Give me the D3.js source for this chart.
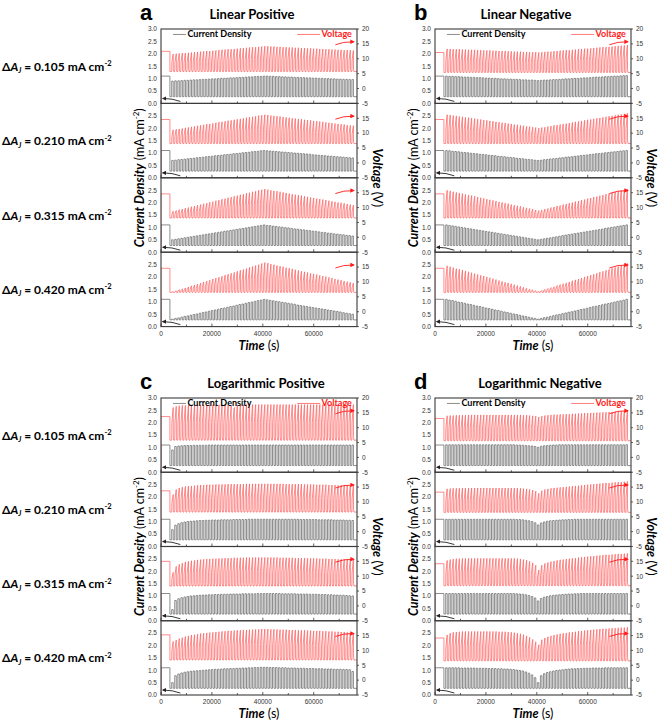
<!DOCTYPE html>
<html lang="en">
<head>
<meta charset="UTF-8" />
<title>Pulsed current density and voltage</title>
<script src="https://d3js.org/d3.v7.min.js"></script>
<style>
  body { margin: 0; background: #fff; }
  svg { display: block; font-family: Lato, "Open Sans", sans-serif; }
</style>
</head>
<body>
<svg id="chart" width="660" height="722"></svg>
<script>
// time axis and pulse programme
const timeTicks = [0, 20000, 40000, 60000];
const timeMinorTicks = [10000, 30000, 50000, 70000];
const timeMax = 77000;
const stepEnd = 3500, firstPulse = 4200, period = 1200, onTime = 600;
const stepCurrent = 1.1, baseCurrent = 0.27;

const panelLetters = ["a", "b", "c", "d"];
const panelTitles = ["Linear Positive", "Linear Negative", "Logarithmic Positive", "Logarithmic Negative"];
const deltaValues = ["0.105", "0.210", "0.315", "0.420"];
const currentTicksTop = [0, 0.5, 1, 1.5, 2, 2.5, 3];
const currentTicks = [0, 0.5, 1, 1.5, 2, 2.5];
const voltageTicksTop = [-5, 0, 5, 10, 15, 20];
const voltageTicks = [-5, 0, 5, 10, 15];

// pulse peak current density (mA cm-2), one value per pulse
const curA1 = [0.90,0.91,0.91,0.92,0.93,0.93,0.94,0.95,0.95,0.96,0.97,0.97,0.98,0.99,0.99,1.00,1.01,1.01,1.02,1.03,1.03,1.04,1.05,1.05,1.06,1.07,1.07,1.08,1.09,1.09,1.10,
  1.10,1.09,1.09,1.08,1.08,1.07,1.07,1.06,1.06,1.05,1.05,1.04,1.04,1.03,1.03,1.02,1.02,1.01,1.01,1.00,1.00,0.99,0.99,0.98,0.98,0.97,0.97,0.96,0.96];
const curA2 = [0.70,0.71,0.73,0.74,0.75,0.77,0.78,0.79,0.81,0.82,0.83,0.85,0.86,0.87,0.89,0.90,0.91,0.93,0.94,0.95,0.97,0.98,0.99,1.01,1.02,1.03,1.05,1.06,1.07,1.09,1.10,
  1.09,1.08,1.07,1.06,1.05,1.04,1.03,1.02,1.01,1.00,0.99,0.98,0.97,0.96,0.95,0.93,0.92,0.91,0.90,0.89,0.88,0.87,0.86,0.85,0.84,0.83,0.82,0.81,0.80];
const curA3 = [0.50,0.52,0.54,0.56,0.58,0.60,0.62,0.64,0.66,0.68,0.70,0.72,0.74,0.76,0.78,0.80,0.82,0.84,0.86,0.88,0.90,0.92,0.94,0.96,0.98,1.00,1.02,1.04,1.06,1.08,1.10,
  1.08,1.07,1.05,1.04,1.02,1.01,0.99,0.98,0.96,0.94,0.93,0.91,0.90,0.88,0.87,0.85,0.84,0.82,0.80,0.79,0.77,0.76,0.74,0.73,0.71,0.70,0.68,0.67,0.65];
const curA4 = [0.30,0.33,0.35,0.38,0.41,0.43,0.46,0.49,0.51,0.54,0.57,0.59,0.62,0.65,0.67,0.70,0.73,0.75,0.78,0.81,0.83,0.86,0.89,0.91,0.94,0.97,0.99,1.02,1.05,1.07,1.10,
  1.08,1.06,1.04,1.02,1.00,0.98,0.96,0.94,0.92,0.90,0.87,0.85,0.83,0.81,0.79,0.77,0.75,0.73,0.71,0.69,0.67,0.65,0.63,0.61,0.59,0.56,0.54,0.52,0.50];

const curB1 = [1.10,1.09,1.09,1.08,1.08,1.07,1.06,1.06,1.05,1.05,1.04,1.04,1.03,1.02,1.02,1.01,1.01,1.00,0.99,0.99,0.98,0.98,0.97,0.97,0.96,0.95,0.95,0.94,0.94,0.93,0.92,
  0.93,0.94,0.94,0.95,0.96,0.96,0.97,0.98,0.99,0.99,1.00,1.01,1.01,1.02,1.03,1.03,1.04,1.05,1.06,1.06,1.07,1.08,1.08,1.09,1.10,1.10,1.11,1.12,1.12];
const curB2 = [1.10,1.09,1.07,1.06,1.05,1.03,1.02,1.01,0.99,0.98,0.97,0.95,0.94,0.93,0.91,0.90,0.89,0.87,0.86,0.85,0.83,0.82,0.81,0.79,0.78,0.77,0.75,0.74,0.73,0.71,0.70,
  0.71,0.73,0.74,0.76,0.77,0.78,0.80,0.81,0.83,0.84,0.85,0.87,0.88,0.90,0.91,0.92,0.94,0.95,0.97,0.98,0.99,1.01,1.02,1.04,1.05,1.06,1.08,1.09,1.10];
const curB3 = [1.10,1.08,1.06,1.04,1.02,1.00,0.98,0.96,0.94,0.92,0.90,0.88,0.86,0.84,0.82,0.80,0.78,0.76,0.74,0.72,0.70,0.68,0.66,0.64,0.62,0.60,0.58,0.56,0.54,0.52,0.50,
  0.52,0.54,0.56,0.58,0.60,0.62,0.64,0.67,0.69,0.71,0.73,0.75,0.77,0.79,0.81,0.83,0.85,0.87,0.89,0.91,0.93,0.96,0.98,1.00,1.02,1.04,1.06,1.08,1.10];
const curB4 = [1.10,1.07,1.05,1.02,0.99,0.97,0.94,0.91,0.89,0.86,0.83,0.81,0.78,0.75,0.73,0.70,0.67,0.65,0.62,0.59,0.57,0.54,0.51,0.49,0.46,0.43,0.41,0.38,0.35,0.33,0.30,
  0.33,0.36,0.38,0.41,0.44,0.47,0.49,0.52,0.55,0.58,0.60,0.63,0.66,0.69,0.71,0.74,0.77,0.80,0.82,0.85,0.88,0.91,0.93,0.96,0.99,1.02,1.04,1.07,1.10];

const curC1 = [0.90,1.04,1.06,1.07,1.08,1.08,1.08,1.09,1.09,1.09,1.09,1.09,1.10,1.10,1.10,1.10,1.10,1.10,1.10,1.10,1.10,1.10,1.10,1.10,1.10,1.10,1.10,1.10,1.10,1.10,
  1.10,1.10,1.10,1.10,1.10,1.10,1.10,1.10,1.10,1.10,1.10,1.10,1.10,1.10,1.10,1.10,1.10,1.10,1.10,1.10,1.10,1.10,1.10,1.10,1.10,1.10,1.10,1.10,1.10,1.10];
const curC2 = [0.68,0.86,0.92,0.96,0.99,1.01,1.02,1.03,1.04,1.05,1.05,1.06,1.06,1.07,1.07,1.07,1.08,1.08,1.08,1.08,1.09,1.09,1.09,1.09,1.09,1.10,1.10,1.10,1.10,1.10,
  1.10,1.10,1.10,1.10,1.10,1.10,1.10,1.10,1.10,1.10,1.10,1.10,1.09,1.09,1.09,1.09,1.09,1.09,1.08,1.08,1.08,1.08,1.08,1.07,1.07,1.07,1.07,1.06,1.06,1.05];
const curC3 = [0.45,0.82,0.89,0.93,0.96,0.98,1.00,1.01,1.02,1.03,1.04,1.04,1.05,1.05,1.06,1.06,1.07,1.07,1.07,1.08,1.08,1.08,1.08,1.09,1.09,1.09,1.09,1.09,1.10,1.10,
  1.10,1.10,1.10,1.10,1.10,1.10,1.09,1.09,1.09,1.09,1.09,1.08,1.08,1.08,1.08,1.07,1.07,1.07,1.06,1.06,1.06,1.05,1.05,1.04,1.04,1.03,1.03,1.02,1.01,1.00];
const curC4 = [0.50,0.78,0.85,0.89,0.92,0.94,0.96,0.97,0.98,0.99,1.00,1.01,1.02,1.03,1.04,1.04,1.05,1.06,1.06,1.07,1.07,1.08,1.08,1.09,1.09,1.10,1.10,1.11,1.11,1.12,
  1.12,1.12,1.11,1.11,1.11,1.10,1.10,1.10,1.09,1.09,1.09,1.08,1.08,1.08,1.07,1.07,1.07,1.06,1.06,1.06,1.05,1.05,1.05,1.04,1.04,1.04,1.03,1.03,1.02,0.95];

const curD1 = [1.11,1.11,1.11,1.11,1.11,1.11,1.11,1.11,1.11,1.11,1.11,1.11,1.11,1.11,1.11,1.11,1.11,1.11,1.11,1.11,1.11,1.11,1.11,1.10,1.10,1.09,1.08,1.07,1.06,1.04,1.01,
  1.05,1.07,1.08,1.09,1.10,1.10,1.11,1.11,1.11,1.11,1.11,1.11,1.11,1.11,1.11,1.11,1.11,1.11,1.11,1.11,1.11,1.11,1.11,1.11,1.11,1.11,1.11,1.11,1.11];
const curD2 = [1.10,1.10,1.10,1.10,1.10,1.10,1.10,1.10,1.10,1.10,1.10,1.10,1.10,1.10,1.10,1.10,1.10,1.10,1.10,1.10,1.10,1.10,1.10,1.09,1.09,1.08,1.06,1.04,1.01,0.96,0.87,
  0.95,0.99,1.02,1.04,1.05,1.06,1.07,1.08,1.08,1.09,1.09,1.10,1.10,1.10,1.10,1.10,1.10,1.10,1.10,1.10,1.10,1.10,1.10,1.10,1.10,1.10,1.10,1.10,1.10];
const curD3 = [1.10,1.10,1.10,1.10,1.10,1.10,1.10,1.10,1.10,1.10,1.10,1.10,1.10,1.10,1.10,1.10,1.10,1.10,1.10,1.10,1.10,1.10,1.10,1.09,1.08,1.07,1.05,1.02,0.98,0.92,0.80,
  0.90,0.95,0.98,1.01,1.03,1.04,1.05,1.06,1.07,1.08,1.08,1.09,1.09,1.10,1.10,1.10,1.10,1.10,1.10,1.10,1.10,1.10,1.10,1.10,1.10,1.10,1.10,1.10,1.10];
const curD4 = [1.10,1.10,1.10,1.10,1.10,1.09,1.09,1.09,1.09,1.09,1.08,1.08,1.08,1.08,1.07,1.07,1.07,1.06,1.06,1.05,1.05,1.04,1.03,1.01,0.99,0.97,0.93,0.88,0.81,0.70,0.50,
  0.78,0.86,0.91,0.94,0.97,0.99,1.01,1.02,1.04,1.05,1.06,1.06,1.07,1.07,1.08,1.08,1.08,1.09,1.09,1.09,1.09,1.10,1.10,1.10,1.10,1.10,1.10,1.10,1.10];

// pulse peak voltage (V), one value per pulse
const voltA1 = [11.6,11.7,11.8,11.9,11.9,12.0,12.1,12.2,12.3,12.4,12.5,12.6,12.6,12.7,12.8,12.9,13.0,13.1,13.2,13.2,13.3,13.4,13.5,13.6,13.7,13.8,13.9,13.9,14.0,14.1,14.2,
  14.2,14.1,14.1,14.0,14.0,13.9,13.9,13.8,13.8,13.7,13.7,13.6,13.6,13.5,13.5,13.4,13.4,13.3,13.3,13.2,13.2,13.1,13.1,13.0,13.0,12.9,12.9,12.9,12.8];
const voltA2 = [11.1,11.3,11.4,11.6,11.8,11.9,12.1,12.3,12.5,12.6,12.8,13.0,13.1,13.3,13.5,13.7,13.8,14.0,14.2,14.3,14.5,14.7,14.8,15.0,15.2,15.4,15.5,15.7,15.9,16.0,16.2,
  16.1,15.9,15.8,15.7,15.6,15.4,15.3,15.2,15.0,14.9,14.8,14.7,14.5,14.4,14.3,14.1,14.0,13.9,13.8,13.6,13.5,13.4,13.2,13.1,13.0,12.9,12.7,12.6,12.5];
const voltA3 = [8.8,9.0,9.3,9.5,9.8,10.0,10.3,10.5,10.8,11.0,11.3,11.5,11.8,12.0,12.3,12.5,12.8,13.0,13.3,13.5,13.8,14.0,14.3,14.5,14.8,15.0,15.3,15.5,15.8,16.0,16.2,
  16.0,15.8,15.6,15.5,15.3,15.1,14.9,14.7,14.5,14.3,14.2,14.0,13.8,13.6,13.4,13.2,13.0,12.9,12.7,12.5,12.3,12.1,11.9,11.7,11.6,11.4,11.2,11.0,10.8];
const voltA4 = [6.7,7.0,7.4,7.7,8.0,8.3,8.7,9.0,9.3,9.6,10.0,10.3,10.6,11.0,11.3,11.6,11.9,12.3,12.6,12.9,13.2,13.6,13.9,14.2,14.5,14.9,15.2,15.5,15.8,16.2,16.5,
  16.3,16.0,15.8,15.5,15.3,15.1,14.8,14.6,14.4,14.1,13.9,13.6,13.4,13.2,12.9,12.7,12.5,12.2,12.0,11.8,11.5,11.3,11.0,10.8,10.6,10.3,10.1,9.9,9.6];

const voltB1 = [13.3,13.3,13.2,13.2,13.2,13.1,13.1,13.0,13.0,13.0,12.9,12.9,12.8,12.8,12.8,12.7,12.7,12.6,12.6,12.6,12.5,12.5,12.4,12.4,12.4,12.3,12.3,12.2,12.2,12.2,12.1,
  12.2,12.3,12.4,12.4,12.5,12.6,12.7,12.8,12.9,12.9,13.0,13.1,13.2,13.3,13.4,13.4,13.5,13.6,13.7,13.8,13.9,13.9,14.0,14.1,14.2,14.3,14.4,14.5,14.6];
const voltB2 = [16.2,16.1,15.9,15.8,15.6,15.5,15.3,15.2,15.0,14.9,14.7,14.6,14.4,14.3,14.1,14.0,13.8,13.7,13.5,13.4,13.2,13.1,12.9,12.8,12.6,12.5,12.3,12.2,12.0,11.9,11.7,
  11.9,12.0,12.2,12.4,12.6,12.7,12.9,13.1,13.2,13.4,13.6,13.8,13.9,14.1,14.3,14.5,14.6,14.8,15.0,15.1,15.3,15.5,15.7,15.8,16.0,16.2,16.3,16.5,16.7];
const voltB3 = [15.8,15.6,15.3,15.1,14.9,14.7,14.4,14.2,14.0,13.8,13.5,13.3,13.1,12.8,12.6,12.4,12.2,11.9,11.7,11.5,11.3,11.0,10.8,10.6,10.4,10.1,9.9,9.7,9.5,9.2,9.0,
  9.2,9.5,9.7,10.0,10.2,10.5,10.7,11.0,11.2,11.5,11.7,12.0,12.2,12.5,12.7,13.0,13.2,13.5,13.7,14.0,14.2,14.5,14.7,15.0,15.2,15.5,15.7,16.0,16.2];
const voltB4 = [15.4,15.1,14.8,14.5,14.3,14.0,13.7,13.4,13.1,12.8,12.5,12.2,12.0,11.7,11.4,11.1,10.8,10.5,10.2,9.9,9.7,9.4,9.1,8.8,8.5,8.2,7.9,7.6,7.4,7.1,6.8,
  7.1,7.5,7.8,8.1,8.4,8.8,9.1,9.4,9.7,10.0,10.4,10.7,11.0,11.3,11.7,12.0,12.3,12.6,12.9,13.3,13.6,13.9,14.2,14.6,14.9,15.2,15.5,15.9,16.2];

const voltC1 = [16.8,17.2,17.4,17.5,17.5,17.6,17.6,17.6,17.7,17.7,17.7,17.7,17.7,17.7,17.7,17.7,17.7,17.7,17.7,17.3,16.8,17.4,17.7,17.7,17.8,17.8,17.8,17.8,17.8,17.8,
  17.8,17.8,17.8,17.8,17.8,17.8,17.8,17.8,17.8,17.8,17.8,17.8,17.8,17.8,17.8,17.8,17.8,17.8,17.8,17.8,17.8,17.8,17.8,17.8,17.8,17.8,17.8,17.8,17.8,17.8];
const voltC2 = [12.5,14.2,14.7,15.0,15.2,15.3,15.4,15.5,15.6,15.7,15.7,15.8,15.8,15.8,15.9,15.9,15.9,15.9,16.0,16.0,16.0,16.0,16.0,16.0,16.1,16.1,16.1,16.1,16.1,16.1,
  16.1,16.1,16.1,16.1,16.1,16.1,16.1,16.0,16.0,16.0,16.0,16.0,16.0,15.9,15.9,15.9,15.9,15.8,15.8,15.8,15.8,15.7,15.7,15.7,15.6,15.6,15.6,15.5,15.5,15.4];
const voltC3 = [11.3,13.3,14.0,14.4,14.8,15.0,15.2,15.3,15.5,15.6,15.7,15.8,15.8,15.9,15.9,16.0,16.0,16.1,16.1,16.1,16.2,16.2,16.2,16.2,16.3,16.3,16.3,16.3,16.3,16.3,
  16.3,16.3,16.3,16.3,16.3,16.2,16.2,16.2,16.2,16.2,16.1,16.1,16.1,16.1,16.0,16.0,16.0,16.0,15.9,15.9,15.9,15.8,15.8,15.8,15.7,15.7,15.6,15.6,15.5,15.5];
const voltC4 = [13.0,13.5,14.0,14.3,14.7,14.9,15.2,15.3,15.5,15.7,15.8,15.9,16.0,16.1,16.2,16.3,16.4,16.5,16.6,16.6,16.7,16.8,16.8,16.9,16.9,17.0,17.0,17.1,17.1,17.2,
  17.2,17.2,17.1,17.1,17.1,17.0,17.0,17.0,16.9,16.9,16.9,16.8,16.8,16.8,16.7,16.7,16.6,16.6,16.6,16.5,16.5,16.4,16.4,16.3,16.3,16.2,16.2,16.1,16.0,15.8];

const voltD1 = [14.0,14.1,14.1,14.2,14.2,14.2,14.2,14.3,14.3,14.3,14.3,14.3,14.3,14.3,14.3,14.3,14.3,14.3,14.3,14.3,14.3,14.3,14.3,14.3,14.3,14.2,14.2,14.1,14.0,13.9,13.6,
  13.9,14.1,14.2,14.3,14.4,14.4,14.5,14.5,14.6,14.6,14.7,14.7,14.8,14.8,14.9,14.9,15.0,15.0,15.1,15.1,15.2,15.2,15.3,15.3,15.4,15.4,15.5,15.6,15.7];
const voltD2 = [14.4,14.5,14.6,14.6,14.6,14.7,14.7,14.7,14.7,14.7,14.7,14.7,14.7,14.7,14.7,14.7,14.7,14.7,14.7,14.7,14.7,14.7,14.7,14.7,14.6,14.5,14.4,14.2,14.0,13.6,12.9,
  13.8,14.2,14.4,14.6,14.7,14.8,14.9,15.0,15.1,15.2,15.3,15.4,15.5,15.6,15.7,15.8,15.9,16.0,16.1,16.2,16.3,16.4,16.4,16.5,16.6,16.7,16.7,16.8,16.9];
const voltD3 = [15.3,15.6,15.8,15.9,15.9,16.0,16.0,16.0,16.0,16.0,16.0,16.0,16.0,16.0,16.0,16.0,16.0,16.0,16.0,16.0,16.0,16.0,16.0,15.9,15.8,15.6,15.4,15.0,14.5,13.7,12.1,
  13.7,14.3,14.6,14.9,15.1,15.3,15.5,15.6,15.8,15.9,16.0,16.1,16.3,16.4,16.5,16.6,16.7,16.8,16.9,17.0,17.1,17.2,17.2,17.3,17.4,17.5,17.5,17.6,17.7];
const voltD4 = [15.2,15.8,16.1,16.2,16.3,16.4,16.4,16.4,16.4,16.4,16.4,16.4,16.4,16.4,16.4,16.4,16.4,16.3,16.3,16.3,16.2,16.1,16.0,15.8,15.6,15.3,14.9,14.4,13.7,12.9,11.9,
  13.6,14.2,14.6,14.9,15.2,15.4,15.6,15.8,15.9,16.1,16.2,16.3,16.5,16.6,16.7,16.8,16.9,17.0,17.1,17.2,17.3,17.3,17.4,17.5,17.5,17.6,17.7,17.7,17.8];

// voltage during the initial constant step, and resting voltage between pulses (V)
const stepVoltA = [12.5, 14.6, 14.6, 14.6], restVoltA = [5.7, 6.5, 6.5, 6.5];
const stepVoltB = [12.1, 14.6, 14.6, 14.6], restVoltB = [5.4, 6.5, 6.5, 6.5];
const stepVoltC = [13.75, 13.75, 15.0, 15.25], restVoltC = [5.8, 6.6, 6.7, 6.8];
const stepVoltD = [13.1, 13.3, 14.2, 14.2], restVoltD = [5.6, 6.5, 6.8, 6.5];

const panels = [
  { cur: [curA1, curA2, curA3, curA4], volt: [voltA1, voltA2, voltA3, voltA4], step: stepVoltA, rest: restVoltA, x0: 161, top: 29, h: 74.4 },
  { cur: [curB1, curB2, curB3, curB4], volt: [voltB1, voltB2, voltB3, voltB4], step: stepVoltB, rest: restVoltB, x0: 435, top: 29, h: 74.4 },
  { cur: [curC1, curC2, curC3, curC4], volt: [voltC1, voltC2, voltC3, voltC4], step: stepVoltC, rest: restVoltC, x0: 161, top: 398, h: 74.25 },
  { cur: [curD1, curD2, curD3, curD4], volt: [voltD1, voltD2, voltD3, voltD4], step: stepVoltD, rest: restVoltD, x0: 435, top: 398, h: 74.25 }
];
const plotW = 196;
const gray = "#707070", red = "#ff5a5a", axisCol = "#3a3a3a", tickText = "#333";

const svg = d3.select("#chart");
const defs = svg.append("defs");
[["arrowK", "#222"], ["arrowR", "#ff1a1a"]].forEach(([id, c]) => {
  defs.append("marker").attr("id", id)
    .attr("viewBox", "0 0 10 10").attr("refX", 8).attr("refY", 5)
    .attr("markerWidth", 5).attr("markerHeight", 5).attr("orient", "auto")
    .append("path").attr("d", "M0,0 L10,5 L0,10 z").attr("fill", c);
});

function currentPoints(peaks) {
  const pts = [[0, 0], [0, stepCurrent], [stepEnd, stepCurrent], [stepEnd, baseCurrent]];
  peaks.forEach((p, i) => {
    const t = firstPulse + i * period;
    pts.push([t, baseCurrent], [t, p], [t + onTime, p], [t + onTime, baseCurrent]);
  });
  pts.push([timeMax, baseCurrent]);
  return pts;
}

// one charging spike per pulse: fast jump, slow rise to the peak, quick fall
function voltagePoints(peaks, stepV, restV) {
  const pts = [[0, -5], [0, stepV], [stepEnd, stepV], [stepEnd, restV]];
  peaks.forEach((p, i) => {
    const t = firstPulse + i * period, r = p - restV;
    pts.push([t, restV], [t + 60, restV + 0.5 * r], [t + onTime * 0.75, restV + 0.9 * r],
      [t + onTime, p], [t + onTime + 40, restV + 0.1 * r], [t + onTime + 200, restV]);
  });
  pts.push([timeMax, restV]);
  return pts;
}

panels.forEach((pn, k) => {
  const x = d3.scaleLinear().domain([0, timeMax]).range([pn.x0, pn.x0 + plotW]);
  const g = svg.append("g");
  const bottomAll = pn.top + 4 * pn.h;

  // letter + title
  g.append("text").attr("x", pn.x0 - 21).attr("y", pn.top - 9)
    .attr("font-family", "Liberation Sans, Arial, sans-serif").attr("font-weight", "bold")
    .attr("font-size", 22).text(panelLetters[k]);
  g.append("text").attr("x", k > 1 ? pn.x0 + 105 : pn.x0 + 91).attr("y", pn.top - 10)
    .attr("text-anchor", "middle").attr("font-weight", "bold").attr("font-size", 13)
    .text(panelTitles[k]);

  for (let s = 0; s < 4; s++) {
    const top = pn.top + s * pn.h, bot = top + pn.h;
    const yJ = d3.scaleLinear().domain([0, 3]).range([bot, top]);
    const yV = d3.scaleLinear().domain([-5, 20]).range([bot, top]);
    const clipId = `clip${k}${s}`;
    defs.append("clipPath").attr("id", clipId).append("rect")
      .attr("x", pn.x0).attr("y", top).attr("width", plotW).attr("height", pn.h);

    const lineJ = d3.line().x(d => x(d[0])).y(d => yJ(d[1]));
    const lineV = d3.line().x(d => x(d[0])).y(d => yV(d[1]));
    const plot = g.append("g").attr("clip-path", `url(#${clipId})`);
    plot.append("path").attr("d", lineJ(currentPoints(pn.cur[s])))
      .attr("fill", "none").attr("stroke", gray).attr("stroke-width", 0.8);
    plot.append("path").attr("d", lineV(voltagePoints(pn.volt[s], pn.step[s], pn.rest[s])))
      .attr("fill", "none").attr("stroke", red).attr("stroke-width", 0.7);

    // arrows pointing to the matching axis
    g.append("path")
      .attr("d", `M${x(7600)},${yJ(0.08)} Q${x(4500)},${yJ(0.2)} ${x(700)},${yJ(0.2)}`)
      .attr("fill", "none").attr("stroke", "#222").attr("stroke-width", 0.9)
      .attr("marker-end", "url(#arrowK)");
    g.append("path")
      .attr("d", `M${x(68500)},${yV(14.7)} Q${x(71500)},${yV(15.8)} ${x(75800)},${yV(15.7)}`)
      .attr("fill", "none").attr("stroke", "#ff1a1a").attr("stroke-width", 0.9)
      .attr("marker-end", "url(#arrowR)");

    // frame
    g.append("rect").attr("x", pn.x0).attr("y", top).attr("width", plotW).attr("height", pn.h)
      .attr("fill", "none").attr("stroke", axisCol).attr("stroke-width", 1.1);

    // bottom ticks
    timeTicks.concat(timeMinorTicks).forEach(t => {
      const len = timeTicks.includes(t) ? 3 : 2;
      g.append("line").attr("x1", x(t)).attr("x2", x(t)).attr("y1", bot).attr("y2", bot - len)
        .attr("stroke", axisCol).attr("stroke-width", 0.8);
    });

    // left axis labels
    (s === 0 ? currentTicksTop : currentTicks).forEach(v => {
      g.append("text").attr("x", pn.x0 - 4).attr("y", yJ(v) + 2.3)
        .attr("text-anchor", "end").attr("font-size", 6.5).attr("fill", tickText)
        .attr("font-family", "Liberation Sans, Arial, sans-serif").text(v.toFixed(1));
    });
    // right axis labels
    (s === 0 ? voltageTicksTop : voltageTicks).forEach(v => {
      g.append("line").attr("x1", pn.x0 + plotW).attr("x2", pn.x0 + plotW + 2)
        .attr("y1", yV(v)).attr("y2", yV(v)).attr("stroke", axisCol).attr("stroke-width", 0.8);
      g.append("text").attr("x", pn.x0 + plotW + 5).attr("y", yV(v) + 2.3)
        .attr("font-size", 6.5).attr("fill", tickText)
        .attr("font-family", "Liberation Sans, Arial, sans-serif").text(v);
    });

    // ΔA labels on the left
    if (k % 2 === 0) {
      const t = g.append("text").attr("x", 2).attr("y", (top + bot) / 2 + 4.5)
        .attr("font-weight", "bold").attr("font-size", 12);
      t.append("tspan").text("\u0394");
      t.append("tspan").attr("font-style", "italic").text("A");
      t.append("tspan").attr("font-style", "italic").attr("font-size", 7.5).attr("dy", 2.5).text("J");
      t.append("tspan").attr("dy", -2.5).text(` = ${deltaValues[s]} mA cm`);
      t.append("tspan").attr("font-size", 7.5).attr("dy", -4.5).text("-2");
    }

    // legend in the top sub-plot
    if (s === 0) {
      g.append("line").attr("x1", x(4700)).attr("x2", x(9800)).attr("y1", yJ(2.78)).attr("y2", yJ(2.78))
        .attr("stroke", gray).attr("stroke-width", 0.8);
      g.append("text").attr("x", x(10400)).attr("y", yJ(2.78) + 3)
        .attr("font-weight", "bold").attr("font-size", 9).text("Current Density");
      g.append("line").attr("x1", x(53500)).attr("x2", x(62500)).attr("y1", yJ(2.78)).attr("y2", yJ(2.78))
        .attr("stroke", red).attr("stroke-width", 0.8);
      g.append("text").attr("x", x(75000)).attr("y", yJ(2.78) + 3).attr("text-anchor", "end")
        .attr("font-weight", "bold").attr("font-size", 9).attr("fill", "#ff1a1a").text("Voltage");
    }

    // x tick labels under the last sub-plot
    if (s === 3) {
      timeTicks.forEach(t => {
        g.append("text").attr("x", x(t)).attr("y", bot + 9).attr("text-anchor", "middle")
          .attr("font-size", 6.5).attr("fill", tickText)
          .attr("font-family", "Liberation Sans, Arial, sans-serif").text(t);
      });
    }
  }

  // axis titles
  const midY = (pn.top + bottomAll) / 2;
  const yl = g.append("text").attr("transform", `translate(${pn.x0 - 17},${midY}) rotate(-90)`)
    .attr("text-anchor", "middle").attr("font-size", 12.5);
  yl.append("tspan").attr("font-weight", "bold").attr("font-style", "italic").text("Current Density");
  yl.append("tspan").text(" (mA cm");
  yl.append("tspan").attr("font-size", 8).attr("dy", -5).text("-2");
  yl.append("tspan").attr("dy", 5).text(")");

  const vl = g.append("text").attr("transform", `translate(${pn.x0 + plotW + 16},${midY}) rotate(90)`)
    .attr("text-anchor", "middle").attr("font-size", 12.5);
  vl.append("tspan").attr("font-weight", "bold").attr("font-style", "italic").text("Voltage");
  vl.append("tspan").text(" (V)");

  const tl = g.append("text").attr("x", pn.x0 + 98).attr("y", bottomAll + 23)
    .attr("text-anchor", "middle").attr("font-size", 12.5);
  tl.append("tspan").attr("font-weight", "bold").attr("font-style", "italic").text("Time");
  tl.append("tspan").text(" (s)");
});
</script>
</body>
</html>
